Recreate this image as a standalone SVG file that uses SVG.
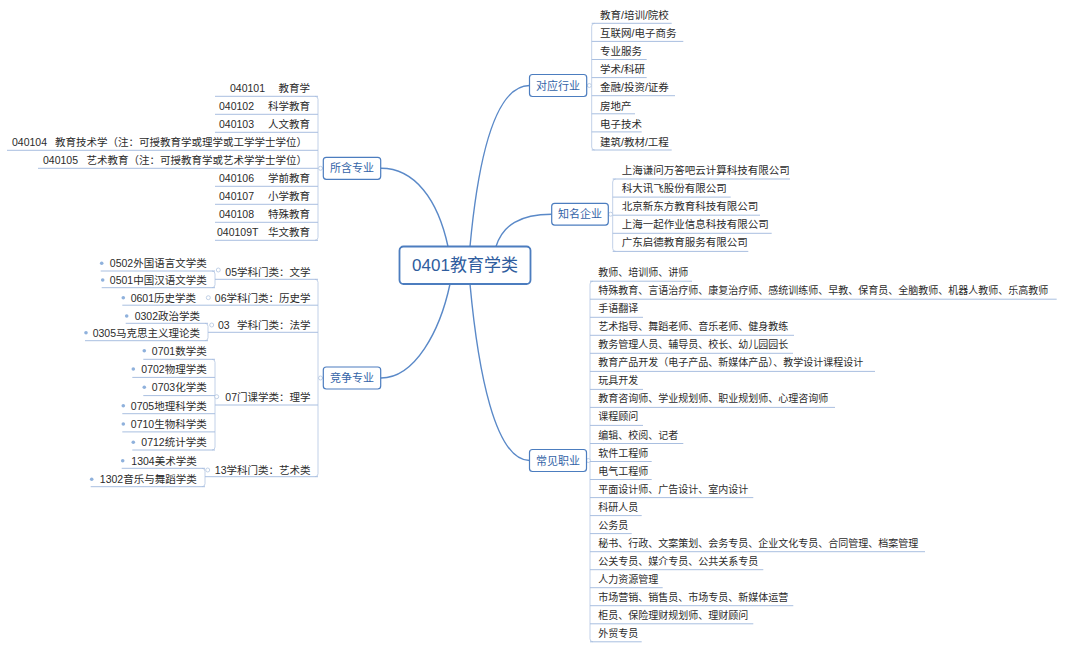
<svg xmlns="http://www.w3.org/2000/svg" width="1080" height="647" viewBox="0 0 1080 647">
<style>
text{font-family:"Liberation Sans","Noto Sans CJK SC",sans-serif;dominant-baseline:central}
.lf{font-size:10.5px;fill:#2b2b2b}
.jb{font-size:10px;fill:#2b2b2b}
.l2{font-size:10.5px;fill:#2b2b2b}
.bt{font-size:11px;fill:#3464a8;text-anchor:middle}
.ct{font-size:17px;fill:#2f5d9e;text-anchor:middle}
.e{text-anchor:end}
.ul{fill:none;stroke:#a9bfe0;stroke-width:1}
.bk{fill:none;stroke:#c2d1e8;stroke-width:1}
.main{fill:none;stroke:#5a89c8;stroke-width:1.4}
.box{fill:#fff;stroke:#4c7dbf;stroke-width:1.2}
.cbox{fill:#fff;stroke:#4c7dbf;stroke-width:1.8}
.dot{fill:#8fb1dc}
.knob{fill:#fff;stroke:#b3c5df;stroke-width:0.8}
</style>
<rect width="1080" height="647" fill="#fff"/>

<g id="connectors">
<path class="main" d="M448,246.5 C438,200 415,168.3 381,168.3"/>
<path class="main" d="M450,284 C440,331 415,378 381,378"/>
<path class="main" d="M496,246.5 C503,225 520,214.2 551.7,214.2"/>
<path class="main" d="M470,246.5 C478,160 495,85.5 529.5,85.5"/>
<path class="main" d="M470,284 C478,371 495,460.5 529.5,460.5"/>
<!-- brackets -->
<path class="bk" d="M315,96.3 Q318,96.3 318,99.3 V237.3 Q318,240.3 315,240.3 M318,168.3 H323.3"/>
<path class="bk" d="M315,279.3 Q318,279.3 318,282.3 V473.7 Q318,476.7 315,476.7 M318,378 H323.3"/>
<path class="bk" d="M212,271 Q215,271 215,274 V284.7 Q215,287.7 212,287.7"/>
<path class="bk" d="M205,323.3 Q208,323.3 208,326.3 V337.7 Q208,340.7 205,340.7"/>
<path class="bk" d="M212,359.3 Q215,359.3 215,362.3 V447 Q215,450 212,450"/>
<path class="bk" d="M202,468.3 Q205,468.3 205,471.3 V483.7 Q205,486.7 202,486.7"/>
<path class="bk" d="M594.7,23.3 Q591.7,23.3 591.7,26.3 V147 Q591.7,150 594.7,150 M586.7,85.5 H591.7"/>
<path class="bk" d="M615.7,179 Q612.7,179 612.7,182 V248.4 Q612.7,251.4 615.7,251.4 M608.3,214.2 H612.7"/>
<path class="bk" d="M593,281.2 Q590,281.2 590,284.2 V638.8 Q590,641.8 593,641.8 M586.5,460.5 H590"/>
<circle class="knob" cx="320.5" cy="168.3" r="2"/>
<circle class="knob" cx="320.5" cy="378" r="2"/>
<circle class="knob" cx="589.3" cy="85.5" r="2"/>
<circle class="knob" cx="610.6" cy="214.2" r="2"/>
<circle class="knob" cx="588.3" cy="460.5" r="2"/>
</g>

<g id="center">
<rect class="cbox" x="399.5" y="246.5" width="131" height="37.5" rx="4"/>
<text class="ct" x="465" y="265">0401教育学类</text>
</g>

<g id="branch-suohan">
<rect class="box" x="323.3" y="157.3" width="57.4" height="22" rx="3"/>
<text class="bt" x="352" y="168.3">所含专业</text>
</g>
<g id="branch-jingzheng">
<rect class="box" x="323.3" y="367" width="57.4" height="22" rx="3"/>
<text class="bt" x="352" y="378">竞争专业</text>
</g>
<g id="branch-hangye">
<rect class="box" x="529.5" y="74.5" width="57.2" height="22" rx="3"/>
<text class="bt" x="558.1" y="85.5">对应行业</text>
</g>
<g id="branch-qiye">
<rect class="box" x="551.7" y="203.3" width="56.6" height="21.8" rx="3"/>
<text class="bt" x="580" y="214.2">知名企业</text>
</g>
<g id="branch-zhiye">
<rect class="box" x="529.5" y="449.5" width="57" height="22" rx="3"/>
<text class="bt" x="558" y="460.5">常见职业</text>
</g>

<!-- 所含专业 leaves -->
<g id="m040101"><path class="ul" d="M215,96.3 H318"/><text class="lf" x="230" y="88.3">040101</text><text class="lf e" x="310" y="88.3">教育学</text></g>
<g id="m040102"><path class="ul" d="M215,114.3 H318"/><text class="lf" x="219" y="106.3">040102</text><text class="lf e" x="310" y="106.3">科学教育</text></g>
<g id="m040103"><path class="ul" d="M215,132.3 H318"/><text class="lf" x="219" y="124.3">040103</text><text class="lf e" x="310" y="124.3">人文教育</text></g>
<g id="m040104"><path class="ul" d="M7,150.3 H318"/><text class="lf" x="12" y="142.3">040104</text><text class="lf e" x="307" y="142.3">教育技术学（注：可授教育学或理学或工学学士学位）</text></g>
<g id="m040105"><path class="ul" d="M38,168.3 H318"/><text class="lf" x="43" y="160.3">040105</text><text class="lf e" x="307" y="160.3">艺术教育（注：可授教育学或艺术学学士学位）</text></g>
<g id="m040106"><path class="ul" d="M215,186.3 H318"/><text class="lf" x="219" y="178.3">040106</text><text class="lf e" x="310" y="178.3">学前教育</text></g>
<g id="m040107"><path class="ul" d="M215,204.3 H318"/><text class="lf" x="219" y="196.3">040107</text><text class="lf e" x="310" y="196.3">小学教育</text></g>
<g id="m040108"><path class="ul" d="M215,222.3 H318"/><text class="lf" x="219" y="214.3">040108</text><text class="lf e" x="310" y="214.3">特殊教育</text></g>
<g id="m040109T"><path class="ul" d="M215,240.3 H318"/><text class="lf" x="217" y="232.3">040109T</text><text class="lf e" x="310" y="232.3">华文教育</text></g>

<!-- 竞争专业 level 2 -->
<g id="c05"><path class="ul" d="M215,279.3 H318"/><circle class="knob" cx="218.3" cy="270" r="2"/><text class="l2 e" x="310.5" y="271.7">05学科门类：文学</text></g>
<g id="c06"><path class="ul" d="M208,305.2 H318"/><circle class="knob" cx="208.3" cy="297.7" r="2"/><text class="l2 e" x="310.5" y="297.7">06学科门类：历史学</text></g>
<g id="c03"><path class="ul" d="M208,332.3 H318"/><circle class="knob" cx="211.7" cy="325" r="2"/><text class="l2" x="218" y="325">03</text><text class="l2 e" x="310.5" y="325">学科门类：法学</text></g>
<g id="c07"><path class="ul" d="M215,405 H318"/><circle class="knob" cx="216.7" cy="396.7" r="2"/><text class="l2 e" x="310.5" y="396.7">07门课学类：理学</text></g>
<g id="c13"><path class="ul" d="M205,476.7 H318"/><circle class="knob" cx="207.7" cy="470" r="2"/><text class="l2 e" x="310.5" y="470">13学科门类：艺术类</text></g>

<!-- 竞争专业 leaves -->
<g id="c0502"><path class="ul" d="M100.7,271 H215"/><circle class="dot" cx="101.7" cy="263.3" r="1.8"/><text class="lf e" x="206.7" y="263.3">0502外国语言文学类</text></g>
<g id="c0501"><path class="ul" d="M101.7,287.7 H215"/><circle class="dot" cx="102.7" cy="280" r="1.8"/><text class="lf e" x="206.7" y="280">0501中国汉语文学类</text></g>
<g id="c0601"><path class="ul" d="M122.3,305.2 H208"/><circle class="dot" cx="123.3" cy="297.7" r="1.8"/><text class="lf e" x="196" y="297.7">0601历史学类</text></g>
<g id="c0302"><path class="ul" d="M125.7,323.3 H208"/><circle class="dot" cx="126.7" cy="316" r="1.8"/><text class="lf e" x="200" y="316">0302政治学类</text></g>
<g id="c0305"><path class="ul" d="M85,340.7 H208"/><circle class="dot" cx="86" cy="332.7" r="1.8"/><text class="lf e" x="200" y="332.7">0305马克思主义理论类</text></g>
<g id="c0701"><path class="ul" d="M143.3,359.3 H215"/><circle class="dot" cx="144.3" cy="350.7" r="1.8"/><text class="lf e" x="206.7" y="350.7">0701数学类</text></g>
<g id="c0702"><path class="ul" d="M132.3,377.4 H215"/><circle class="dot" cx="133.3" cy="369" r="1.8"/><text class="lf e" x="206.7" y="369">0702物理学类</text></g>
<g id="c0703"><path class="ul" d="M143.3,395.6 H215"/><circle class="dot" cx="144.3" cy="387.3" r="1.8"/><text class="lf e" x="206.7" y="387.3">0703化学类</text></g>
<g id="c0705"><path class="ul" d="M122.3,413.7 H215"/><circle class="dot" cx="123.3" cy="405.7" r="1.8"/><text class="lf e" x="206.7" y="405.7">0705地理科学类</text></g>
<g id="c0710"><path class="ul" d="M122.3,431.9 H215"/><circle class="dot" cx="123.3" cy="424" r="1.8"/><text class="lf e" x="206.7" y="424">0710生物科学类</text></g>
<g id="c0712"><path class="ul" d="M132.3,450 H215"/><circle class="dot" cx="133.3" cy="442.3" r="1.8"/><text class="lf e" x="206.7" y="442.3">0712统计学类</text></g>
<g id="c1304"><path class="ul" d="M121.7,468.3 H205"/><circle class="dot" cx="122.7" cy="460.7" r="1.8"/><text class="lf e" x="196.7" y="460.7">1304美术学类</text></g>
<g id="c1302"><path class="ul" d="M90.7,486.7 H205"/><circle class="dot" cx="91.7" cy="479.3" r="1.8"/><text class="lf e" x="196.7" y="479.3">1302音乐与舞蹈学类</text></g>

<!-- 对应行业 leaves -->
<g id="h1"><path class="ul" d="M591.7,23.3 H671.7"/><text class="lf" x="600" y="15">教育/培训/院校</text></g>
<g id="h2"><path class="ul" d="M591.7,41.4 H683.3"/><text class="lf" x="600" y="33.1">互联网/电子商务</text></g>
<g id="h3"><path class="ul" d="M591.7,59.5 H646.7"/><text class="lf" x="600" y="51.2">专业服务</text></g>
<g id="h4"><path class="ul" d="M591.7,77.6 H646.7"/><text class="lf" x="600" y="69.3">学术/科研</text></g>
<g id="h5"><path class="ul" d="M591.7,95.7 H675"/><text class="lf" x="600" y="87.4">金融/投资/证券</text></g>
<g id="h6"><path class="ul" d="M591.7,113.8 H635"/><text class="lf" x="600" y="105.5">房地产</text></g>
<g id="h7"><path class="ul" d="M591.7,131.9 H641.7"/><text class="lf" x="600" y="123.6">电子技术</text></g>
<g id="h8"><path class="ul" d="M591.7,150 H671.7"/><text class="lf" x="600" y="141.7">建筑/教材/工程</text></g>

<!-- 知名企业 leaves -->
<g id="q1"><path class="ul" d="M612.7,179 H790"/><text class="lf" x="621.7" y="170">上海谦问万答吧云计算科技有限公司</text></g>
<g id="q2"><path class="ul" d="M612.7,197.1 H730.7"/><text class="lf" x="621.7" y="188.1">科大讯飞股份有限公司</text></g>
<g id="q3"><path class="ul" d="M612.7,215.2 H760"/><text class="lf" x="621.7" y="206.2">北京新东方教育科技有限公司</text></g>
<g id="q4"><path class="ul" d="M612.7,233.3 H771.7"/><text class="lf" x="621.7" y="224.3">上海一起作业信息科技有限公司</text></g>
<g id="q5"><path class="ul" d="M612.7,251.4 H748.3"/><text class="lf" x="621.7" y="242.4">广东启德教育服务有限公司</text></g>

<!-- 常见职业 leaves -->
<g id="z1"><path class="ul" d="M590,281.2 H692"/><text class="jb" x="598.3" y="272.7">教师、培训师、讲师</text></g>
<g id="z2"><path class="ul" d="M590,299.2 H1056.7"/><text class="jb" x="598.3" y="290.7">特殊教育、言语治疗师、康复治疗师、感统训练师、早教、保育员、全脑教师、机器人教师、乐高教师</text></g>
<g id="z3"><path class="ul" d="M590,317.3 H643"/><text class="jb" x="598.3" y="308.8">手语翻译</text></g>
<g id="z4"><path class="ul" d="M590,335.3 H794"/><text class="jb" x="598.3" y="326.8">艺术指导、舞蹈老师、音乐老师、健身教练</text></g>
<g id="z5"><path class="ul" d="M590,353.3 H793"/><text class="jb" x="598.3" y="344.8">教务管理人员、辅导员、校长、幼儿园园长</text></g>
<g id="z6"><path class="ul" d="M590,371.4 H875"/><text class="jb" x="598.3" y="362.9">教育产品开发（电子产品、新媒体产品）、教学设计课程设计</text></g>
<g id="z7"><path class="ul" d="M590,389.4 H643"/><text class="jb" x="598.3" y="380.9">玩具开发</text></g>
<g id="z8"><path class="ul" d="M590,407.4 H835"/><text class="jb" x="598.3" y="398.9">教育咨询师、学业规划师、职业规划师、心理咨询师</text></g>
<g id="z9"><path class="ul" d="M590,425.4 H643"/><text class="jb" x="598.3" y="416.9">课程顾问</text></g>
<g id="z10"><path class="ul" d="M590,443.5 H683.3"/><text class="jb" x="598.3" y="435">编辑、校阅、记者</text></g>
<g id="z11"><path class="ul" d="M590,461.5 H651.7"/><text class="jb" x="598.3" y="453">软件工程师</text></g>
<g id="z12"><path class="ul" d="M590,479.5 H651.7"/><text class="jb" x="598.3" y="471">电气工程师</text></g>
<g id="z13"><path class="ul" d="M590,497.6 H753.3"/><text class="jb" x="598.3" y="489.1">平面设计师、广告设计、室内设计</text></g>
<g id="z14"><path class="ul" d="M590,515.6 H641.7"/><text class="jb" x="598.3" y="507.1">科研人员</text></g>
<g id="z15"><path class="ul" d="M590,533.6 H631.7"/><text class="jb" x="598.3" y="525.1">公务员</text></g>
<g id="z16"><path class="ul" d="M590,551.7 H925"/><text class="jb" x="598.3" y="543.2">秘书、行政、文案策划、会务专员、企业文化专员、合同管理、档案管理</text></g>
<g id="z17"><path class="ul" d="M590,569.7 H763.3"/><text class="jb" x="598.3" y="561.2">公关专员、媒介专员、公共关系专员</text></g>
<g id="z18"><path class="ul" d="M590,587.7 H662.7"/><text class="jb" x="598.3" y="579.2">人力资源管理</text></g>
<g id="z19"><path class="ul" d="M590,605.7 H793.3"/><text class="jb" x="598.3" y="597.2">市场营销、销售员、市场专员、新媒体运营</text></g>
<g id="z20"><path class="ul" d="M590,623.8 H753.3"/><text class="jb" x="598.3" y="615.3">柜员、保险理财规划师、理财顾问</text></g>
<g id="z21"><path class="ul" d="M590,641.8 H641.7"/><text class="jb" x="598.3" y="633.3">外贸专员</text></g>
</svg>
